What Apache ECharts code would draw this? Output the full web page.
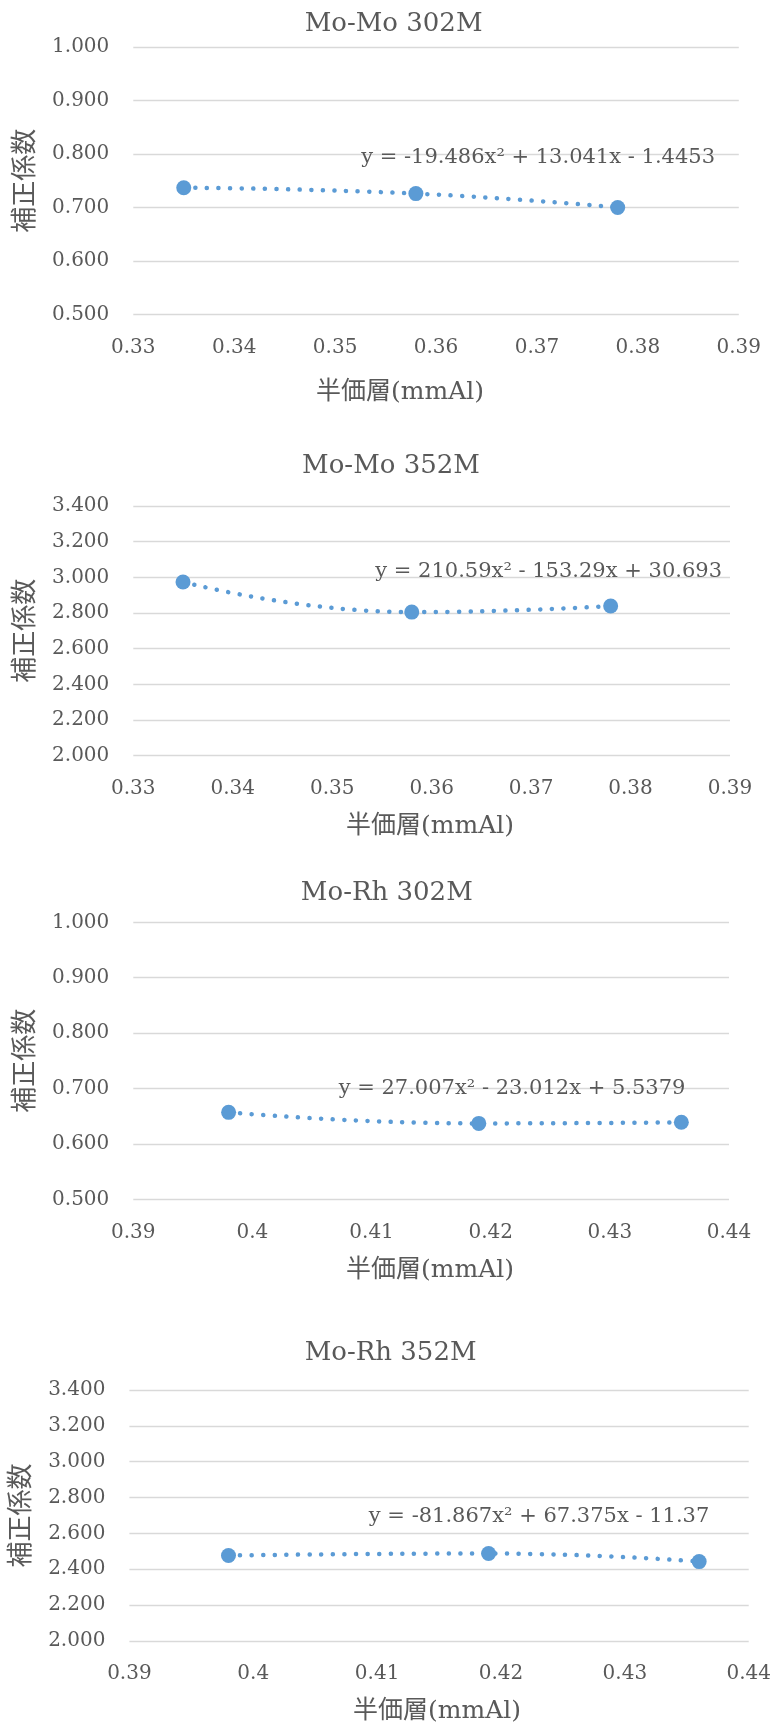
<!DOCTYPE html>
<html>
<head>
<meta charset="utf-8">
<script src="https://cdn.jsdelivr.net/npm/echarts@6/dist/echarts.min.js"></script>
<style>
  html, body { margin: 0; padding: 0; background: #ffffff; }
  #chart { width: 774px; height: 1728px; }
</style>
</head>
<body>
<div id="chart"></div>
<script>
// Half-value layer (mmAl) for each target/filter combination
const hvlMoMo = [0.335, 0.358, 0.378];
const hvlMoRh = [0.398, 0.419, 0.436];

// Correction factors
const corrMoMo302 = [0.737, 0.726, 0.700];
const corrMoMo352 = [2.974, 2.805, 2.839];
const corrMoRh302 = [0.657, 0.637, 0.639];
const corrMoRh352 = [2.477, 2.488, 2.443];

// Panel titles and fitted polynomial labels
const panelTitles = ['Mo-Mo 302M', 'Mo-Mo 352M', 'Mo-Rh 302M', 'Mo-Rh 352M'];
const fitLabels = [
  'y = -19.486x² + 13.041x - 1.4453',
  'y = 210.59x² - 153.29x + 30.693',
  'y = 27.007x² - 23.012x + 5.5379',
  'y = -81.867x² + 67.375x - 11.37'
];

// Axis ticks
const xTicksMoMo = [0.33, 0.34, 0.35, 0.36, 0.37, 0.38, 0.39];
const xTicksMoRh = [0.39, 0.40, 0.41, 0.42, 0.43, 0.44];
const yTicks302 = [0.5, 0.6, 0.7, 0.8, 0.9, 1.0];
const yTicks352 = [2.0, 2.2, 2.4, 2.6, 2.8, 3.0, 3.2, 3.4];

const xAxisName = '半価層(mmAl)';
const yAxisName = '補正係数';

const BLUE = '#5B9BD5';
const TEXT = '#595959';
const GRID = '#d9d9d9';
const SERIF = '"DejaVu Serif", "Noto Sans CJK JP"';

const panels = [
  { x: hvlMoMo, y: corrMoMo302, xt: xTicksMoMo, yt: yTicks302,
    grid: { left: 133.3, right: 35.2, top: 47, height: 267.5 },
    titlePos: [393.6, 24], xNamePos: [400, 392.7], fitPos: [715, 157.3] },
  { x: hvlMoMo, y: corrMoMo352, xt: xTicksMoMo, yt: yTicks352,
    grid: { left: 133.3, right: 44, top: 506, height: 249.7 },
    titlePos: [391, 466.7], xNamePos: [430, 826.7], fitPos: [722, 571.7] },
  { x: hvlMoRh, y: corrMoRh302, xt: xTicksMoRh, yt: yTicks302,
    grid: { left: 133.3, right: 45, top: 922.3, height: 277 },
    titlePos: [386.8, 893.3], xNamePos: [430, 1270], fitPos: [685.4, 1088.3] },
  { x: hvlMoRh, y: corrMoRh352, xt: xTicksMoRh, yt: yTicks352,
    grid: { left: 129.4, right: 25.3, top: 1390, height: 251 },
    titlePos: [390.6, 1353.3], xNamePos: [437, 1711.7], fitPos: [709.3, 1516.7] }
];

const grids = [], xAxes = [], yAxes = [], series = [], graphics = [];

panels.forEach((p, i) => {
  grids.push(Object.assign({ containLabel: false }, p.grid));

  const xStep = +(p.xt[1] - p.xt[0]).toFixed(4);
  const yStep = +(p.yt[1] - p.yt[0]).toFixed(4);

  xAxes.push({
    type: 'value', gridIndex: i,
    min: p.xt[0], max: p.xt[p.xt.length - 1], interval: xStep,
    axisLine: { show: false }, axisTick: { show: false },
    splitLine: { show: false },
    axisLabel: {
      color: TEXT, fontSize: 20, fontFamily: SERIF, margin: 23,
      formatter: v => String(parseFloat(v.toFixed(2)))
    }
  });

  yAxes.push({
    type: 'value', gridIndex: i,
    min: p.yt[0], max: p.yt[p.yt.length - 1], interval: yStep,
    axisLine: { show: false }, axisTick: { show: false },
    splitLine: { show: true, lineStyle: { color: GRID, width: 1.3 } },
    axisLabel: {
      color: TEXT, fontSize: 20, fontFamily: SERIF, margin: 24,
      formatter: v => v.toFixed(3)
    },
    name: yAxisName, nameLocation: 'middle', nameGap: 94, nameRotate: 90,
    nameTextStyle: { color: TEXT, fontSize: 26, fontFamily: SERIF }
  });

  const pts = p.x.map((xv, k) => [xv, p.y[k]]);

  // Dotted polynomial trend through the measured points
  series.push({
    type: 'line', xAxisIndex: i, yAxisIndex: i,
    data: pts, smooth: 0.5, symbol: 'none', silent: true, z: 2,
    lineStyle: { color: BLUE, width: 4.5, type: [0.1, 11.5], cap: 'round', opacity: 1 }
  });

  // Measured points
  series.push({
    type: 'scatter', xAxisIndex: i, yAxisIndex: i,
    data: pts, symbol: 'circle', symbolSize: 15, z: 3,
    itemStyle: { color: BLUE, opacity: 1 }
  });

  graphics.push({
    type: 'text', x: p.titlePos[0], y: p.titlePos[1],
    style: { text: panelTitles[i], fill: TEXT, font: '26px ' + SERIF,
             align: 'center', verticalAlign: 'middle' }
  });
  graphics.push({
    type: 'text', x: p.xNamePos[0], y: p.xNamePos[1],
    style: { text: xAxisName, fill: TEXT, font: '25px ' + SERIF,
             align: 'center', verticalAlign: 'middle' }
  });
  graphics.push({
    type: 'text', x: p.fitPos[0], y: p.fitPos[1], z: 10,
    style: { text: fitLabels[i], fill: TEXT, font: '21px ' + SERIF,
             align: 'right', verticalAlign: 'middle' }
  });
});

const chart = echarts.init(document.getElementById('chart'), null, { renderer: 'canvas' });
chart.setOption({
  backgroundColor: '#ffffff',
  animation: false,
  grid: grids,
  xAxis: xAxes,
  yAxis: yAxes,
  series: series,
  graphic: graphics
});
</script>
</body>
</html>
